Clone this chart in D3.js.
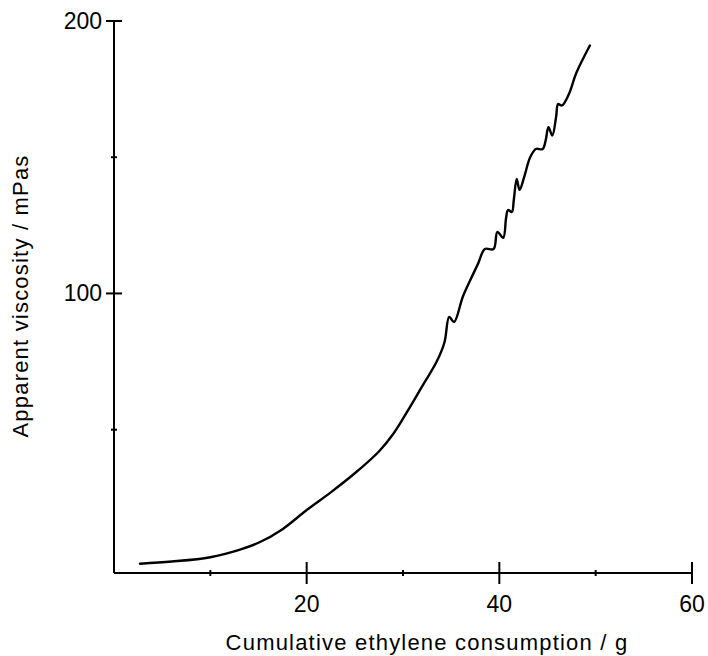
<!DOCTYPE html>
<html>
<head>
<meta charset="utf-8">
<script src="https://cdn.jsdelivr.net/npm/d3@7"></script>
<style>
html,body{margin:0;padding:0;background:#fff;}
svg{display:block;}
text{font-family:"Liberation Sans",Arial,Helvetica,sans-serif;fill:#000;}
</style>
</head>
<body>
<svg id="chart" width="708" height="656"></svg>
<script>
// Data
const consumption = [2.7, 6, 10, 13, 15, 17.5, 20, 22.5, 25, 27.5, 29, 30.5, 32, 33.5, 34.3, 34.8, 35.3, 36.2, 37.0, 37.8, 38.5, 39.4, 39.8, 40.4, 40.7, 40.9, 41.3, 41.5, 41.8, 42.1, 42.6, 43.2, 43.8, 44.5, 44.8, 45.1, 45.5, 45.9, 46.1, 46.5, 47.2, 48.0, 49.4];
const viscosity   = [0.8, 1.6, 3.2, 5.9, 8.5, 13.5, 20.5, 27, 34, 42, 48.5, 57, 66, 75, 82, 91.4, 89.5, 98.7, 105, 111, 116.3, 116.3, 122.6, 120.4, 127.7, 130.6, 129.9, 134.3, 142, 138, 143, 150, 153, 153, 156, 161, 158, 165, 169.5, 169, 173, 181, 191];
const xMajorTicks = [20, 40, 60];
const xMinorTicks = [10, 30, 50];
const yMajorTicks = [100, 200];
const yMinorTicks = [50, 150];
const xTitle = "Cumulative ethylene consumption / g";
const yTitle = "Apparent viscosity / mPas";

const svg = d3.select("#chart");
const x = d3.scaleLinear().domain([0, 60]).range([114, 692]);
const y = d3.scaleLinear().domain([-2.6, 200]).range([573, 21]);

const data = consumption.map((c, i) => ({c, v: viscosity[i]}));

// curve
svg.append("path")
  .datum(data)
  .attr("fill", "none")
  .attr("stroke", "#000")
  .attr("stroke-width", 2.4)
  .attr("stroke-linejoin", "round")
  .attr("stroke-linecap", "round")
  .attr("d", d3.line().x(d => x(d.c)).y(d => y(d.v)).curve(d3.curveCatmullRom.alpha(0.5)));

// axes lines
const x0 = x(0), y0 = y.range()[0];
svg.append("line").attr("x1", x0).attr("x2", x(60)).attr("y1", y0).attr("y2", y0)
  .attr("stroke", "#000").attr("stroke-width", 2);
svg.append("line").attr("x1", x0).attr("x2", x0).attr("y1", y0).attr("y2", y(200))
  .attr("stroke", "#000").attr("stroke-width", 2);

// x ticks (crossing the axis)
svg.selectAll(".xmaj").data(xMajorTicks).enter().append("line")
  .attr("x1", d => x(d)).attr("x2", d => x(d))
  .attr("y1", y0 - 11).attr("y2", y0 + 11)
  .attr("stroke", "#000").attr("stroke-width", 2);
svg.selectAll(".xmin").data(xMinorTicks).enter().append("line")
  .attr("x1", d => x(d)).attr("x2", d => x(d))
  .attr("y1", y0 - 3).attr("y2", y0 + 3)
  .attr("stroke", "#000").attr("stroke-width", 2);
svg.selectAll(".xlab").data(xMajorTicks).enter().append("text")
  .attr("x", d => x(d)).attr("y", 612)
  .attr("text-anchor", "middle").attr("font-size", 23)
  .text(d => d);

// y ticks
svg.selectAll(".ymaj").data(yMajorTicks).enter().append("line")
  .attr("x1", x0 - 8).attr("x2", x0 + 8)
  .attr("y1", d => y(d)).attr("y2", d => y(d))
  .attr("stroke", "#000").attr("stroke-width", 2);
svg.selectAll(".ymin").data(yMinorTicks).enter().append("line")
  .attr("x1", x0 - 3).attr("x2", x0 + 3)
  .attr("y1", d => y(d)).attr("y2", d => y(d))
  .attr("stroke", "#000").attr("stroke-width", 2);
svg.selectAll(".ylab").data(yMajorTicks).enter().append("text")
  .attr("x", 102).attr("y", d => y(d) + 8)
  .attr("text-anchor", "end").attr("font-size", 23)
  .text(d => d);

// titles
svg.append("text").attr("x", 427).attr("y", 650)
  .attr("text-anchor", "middle").attr("font-size", 22)
  .attr("letter-spacing", 1.2)
  .text(xTitle);
svg.append("text")
  .attr("transform", "translate(28,296) rotate(-90)")
  .attr("text-anchor", "middle").attr("font-size", 22)
  .attr("letter-spacing", 1.2)
  .text(yTitle);
</script>
</body>
</html>
